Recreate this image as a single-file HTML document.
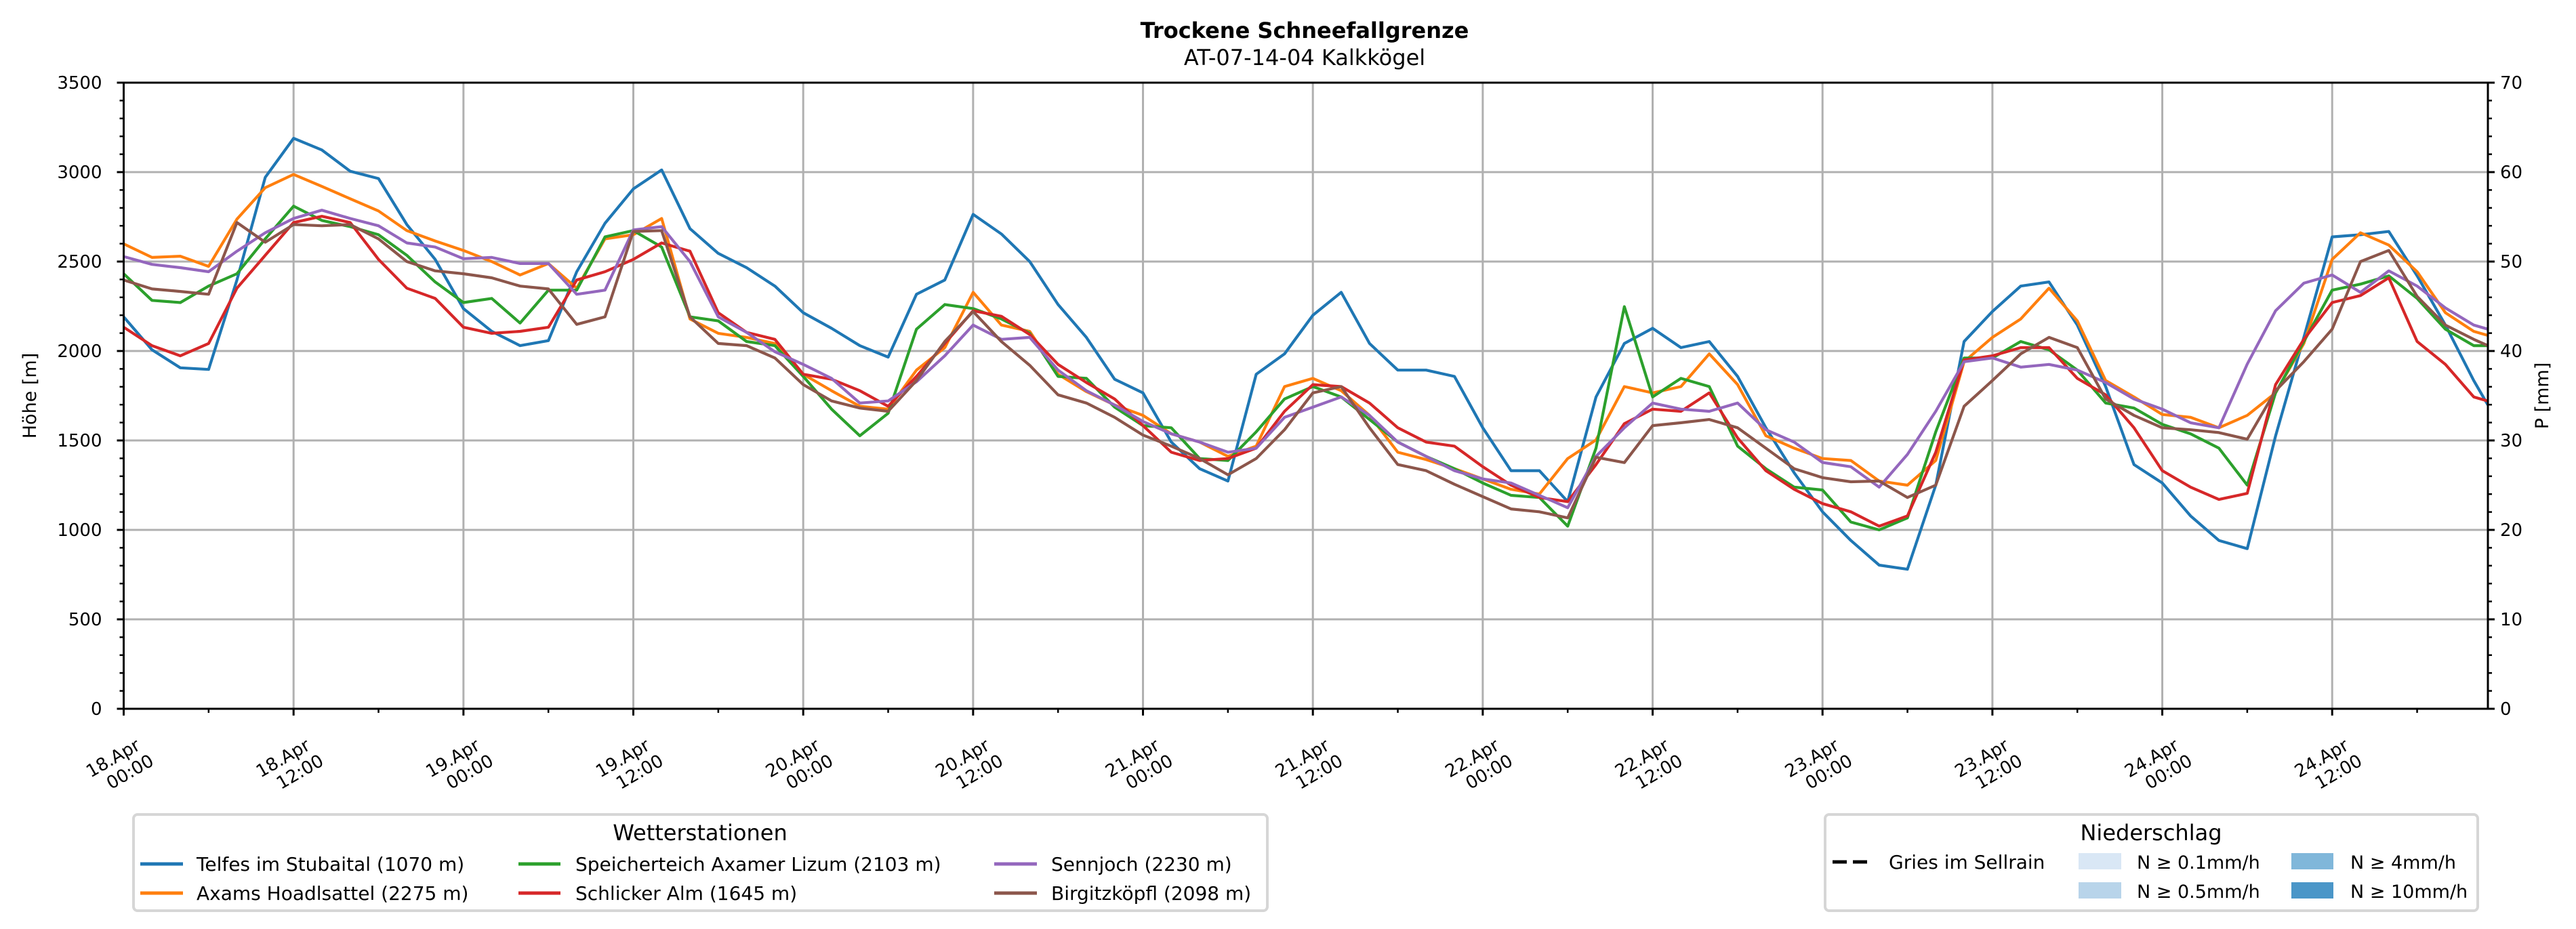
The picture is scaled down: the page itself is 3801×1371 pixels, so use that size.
<!DOCTYPE html>
<html><head><meta charset="utf-8"><style>
html,body{margin:0;padding:0;background:#fff;}
svg{display:block;font-family:"DejaVu Sans","Liberation Sans",sans-serif;}
</style></head><body>
<svg id="chart" width="3801" height="1371" viewBox="0 0 3801 1371" xmlns="http://www.w3.org/2000/svg">
<rect x="0" y="0" width="3801" height="1371" fill="#fff"/>
<text x="1925" y="56" text-anchor="middle" font-size="32" font-weight="bold">Trockene Schneefallgrenze</text>
<text x="1925" y="96" text-anchor="middle" font-size="32">AT-07-14-04 Kalkkögel</text>
<g id="grid"></g>
<g id="series"></g>
<g id="axes"></g>
<text transform="translate(53,584) rotate(-90)" text-anchor="middle" font-size="27">Höhe [m]</text>
<text transform="translate(3760,584) rotate(-90)" text-anchor="middle" font-size="27">P [mm]</text>

<g>
<rect x="197" y="1202" width="1673" height="142" rx="6" fill="#fff" stroke="#d6d6d6" stroke-width="4"/>
<text x="1033" y="1240" text-anchor="middle" font-size="32">Wetterstationen</text>
<g><line x1="207" y1="1275" x2="270" y2="1275" stroke="#1f77b4" stroke-width="5"/><text x="290" y="1285" font-size="28">Telfes im Stubaital (1070 m)</text></g>
<g><line x1="207" y1="1318" x2="270" y2="1318" stroke="#ff7f0e" stroke-width="5"/><text x="290" y="1328" font-size="28">Axams Hoadlsattel (2275 m)</text></g>
<g><line x1="765" y1="1275" x2="827" y2="1275" stroke="#2ca02c" stroke-width="5"/><text x="849" y="1285" font-size="28">Speicherteich Axamer Lizum (2103 m)</text></g>
<g><line x1="765" y1="1318" x2="827" y2="1318" stroke="#d62728" stroke-width="5"/><text x="849" y="1328" font-size="28">Schlicker Alm (1645 m)</text></g>
<g><line x1="1467" y1="1275" x2="1530" y2="1275" stroke="#9467bd" stroke-width="5"/><text x="1551" y="1285" font-size="28">Sennjoch (2230 m)</text></g>
<g><line x1="1467" y1="1318" x2="1530" y2="1318" stroke="#8c564b" stroke-width="5"/><text x="1551" y="1328" font-size="28">Birgitzköpfl (2098 m)</text></g>
</g>

<g>
<rect x="2693" y="1202" width="963" height="142" rx="6" fill="#fff" stroke="#d6d6d6" stroke-width="4"/>
<text x="3174" y="1240" text-anchor="middle" font-size="32">Niederschlag</text>
<g><line x1="2704" y1="1272" x2="2761" y2="1272" stroke="#000" stroke-width="5" stroke-dasharray="21,9"/><text x="2787" y="1282" font-size="28">Gries im Sellrain</text></g>
<g><rect x="3067" y="1259" width="63" height="24" fill="#d9e7f5"/><text x="3153" y="1282" font-size="27">N ≥ 0.1mm/h</text></g>
<g><rect x="3067" y="1302" width="63" height="24" fill="#b8d4ea"/><text x="3153" y="1325" font-size="27">N ≥ 0.5mm/h</text></g>
<g><rect x="3381" y="1259" width="62" height="24" fill="#80b7da"/><text x="3468" y="1282" font-size="27">N ≥ 4mm/h</text></g>
<g><rect x="3381" y="1302" width="62" height="24" fill="#4a96c8"/><text x="3468" y="1325" font-size="27">N ≥ 10mm/h</text></g>
</g>
</svg>
<script>
const hours = [0,2,4,6,8,10,12,14,16,18,20,22,24,26,28,30,32,34,36,38,40,42,44,46,48,50,52,54,56,58,60,62,64,66,68,70,72,74,76,78,80,82,84,86,88,90,92,94,96,98,100,102,104,106,108,110,112,114,116,118,120,122,124,126,128,130,132,134,136,138,140,142,144,146,148,150,152,154,156,158,160,162,164,166,167];
const telfes = [2191,2007,1906,1897,2397,2971,3189,3124,3005,2964,2707,2512,2237,2110,2030,2058,2443,2714,2906,3012,2684,2546,2466,2363,2214,2127,2030,1966,2317,2397,2764,2654,2500,2260,2076,1842,1766,1491,1342,1273,1870,1984,2200,2328,2042,1893,1893,1858,1571,1331,1331,1158,1743,2042,2127,2019,2053,1858,1571,1319,1101,941,803,780,1250,2053,2221,2363,2386,2145,1801,1365,1262,1078,941,895,1525,2076,2638,2650,2668,2420,2145,1835,1698];
const axams = [2599,2523,2530,2473,2737,2913,2987,2920,2851,2783,2673,2615,2562,2500,2425,2489,2351,2627,2650,2741,2179,2099,2076,2042,1870,1778,1691,1675,1893,2019,2328,2145,2110,1870,1773,1698,1640,1537,1491,1411,1468,1801,1847,1778,1640,1434,1393,1342,1285,1227,1200,1399,1503,1801,1766,1801,1984,1812,1526,1457,1399,1388,1273,1250,1388,1940,2076,2179,2351,2168,1835,1743,1645,1629,1571,1640,1766,2042,2512,2661,2592,2443,2214,2110,2087];
const speicher = [2432,2283,2271,2363,2432,2627,2810,2730,2695,2650,2535,2386,2271,2294,2156,2340,2340,2638,2673,2581,2191,2168,2053,2030,1858,1675,1526,1652,2122,2260,2237,2179,2099,1858,1847,1686,1583,1571,1399,1388,1548,1732,1801,1743,1617,1491,1411,1342,1262,1193,1181,1021,1457,2248,1743,1847,1801,1468,1342,1239,1223,1044,1000,1067,1548,1961,1961,2053,2007,1893,1709,1681,1590,1537,1457,1250,1766,2053,2340,2374,2420,2294,2122,2030,2030];
const schlicker = [2133,2030,1973,2042,2351,2535,2718,2753,2718,2512,2351,2294,2133,2099,2110,2133,2397,2443,2512,2604,2558,2214,2104,2065,1870,1842,1778,1691,1858,2042,2225,2194,2092,1925,1824,1732,1583,1434,1388,1399,1457,1663,1812,1801,1709,1571,1491,1468,1353,1250,1181,1158,1365,1594,1675,1663,1766,1514,1331,1227,1147,1101,1021,1078,1434,1950,1973,2019,2019,1847,1755,1571,1331,1239,1170,1204,1812,2065,2271,2310,2409,2053,1925,1743,1720];
const sennjoch = [2528,2484,2466,2443,2558,2661,2741,2787,2741,2700,2604,2581,2516,2523,2489,2489,2317,2340,2677,2695,2500,2191,2104,1996,1925,1847,1709,1721,1828,1973,2145,2065,2076,1893,1778,1698,1606,1537,1491,1434,1457,1629,1686,1743,1640,1491,1411,1331,1285,1262,1193,1124,1411,1571,1709,1675,1663,1709,1560,1491,1377,1353,1239,1422,1663,1940,1961,1910,1925,1893,1824,1732,1675,1599,1571,1927,2225,2379,2425,2328,2448,2363,2241,2145,2122];
const birgitz = [2397,2347,2333,2317,2718,2608,2707,2700,2707,2627,2500,2448,2432,2409,2363,2347,2149,2191,2668,2673,2191,2042,2030,1961,1812,1721,1681,1663,1835,2053,2221,2053,1920,1755,1709,1629,1530,1468,1399,1308,1399,1560,1766,1801,1571,1365,1331,1255,1186,1117,1101,1067,1406,1376,1583,1599,1617,1571,1457,1342,1292,1269,1273,1181,1250,1691,1835,1984,2076,2019,1732,1640,1571,1560,1544,1507,1778,1940,2122,2500,2562,2305,2145,2065,2030];
const yTicks = [0,500,1000,1500,2000,2500,3000,3500];
const y2Ticks = [0,10,20,30,40,50,60,70];
const xTickHours = [0,12,24,36,48,60,72,84,96,108,120,132,144,156];
const xTickDates = ["18.Apr","18.Apr","19.Apr","19.Apr","20.Apr","20.Apr","21.Apr","21.Apr","22.Apr","22.Apr","23.Apr","23.Apr","24.Apr","24.Apr"];
const xTickTimes = ["00:00","12:00","00:00","12:00","00:00","12:00","00:00","12:00","00:00","12:00","00:00","12:00","00:00","12:00"];

const NS = "http://www.w3.org/2000/svg";
const L = 182.5, R = 3671, T = 122, B = 1046;
const HMAX = 167, YMAX = 3500, Y2MAX = 70;
function xs(h){ return L + h/HMAX*(R-L); }
function ys(v){ return B - v/YMAX*(B-T); }
function y2s(v){ return B - v/Y2MAX*(B-T); }
function mk(tag, attrs, parent){ const e=document.createElementNS(NS,tag); for(const k in attrs) e.setAttribute(k,attrs[k]); parent.appendChild(e); return e; }

const grid = document.getElementById('grid');
const axes = document.getElementById('axes');
const series = document.getElementById('series');

yTicks.forEach(v=>{
  const g = mk('line',{x1:L,x2:R,y1:ys(v),y2:ys(v),stroke:'#b0b0b0','stroke-width':3},grid);
  
  
});
xTickHours.forEach(h=>{
  const g = mk('line',{x1:xs(h),x2:xs(h),y1:T,y2:B,stroke:'#b0b0b0','stroke-width':3},grid);
  
  
});

const lines = [
  ['telfes-line',telfes,'#1f77b4'],
  ['axams-line',axams,'#ff7f0e'],
  ['speicherteich-line',speicher,'#2ca02c'],
  ['schlicker-line',schlicker,'#d62728'],
  ['sennjoch-line',sennjoch,'#9467bd'],
  ['birgitzkoepfl-line',birgitz,'#8c564b']
];
lines.forEach(([name,vals,col])=>{
  const pts = vals.map((v,i)=>xs(hours[i]).toFixed(1)+','+ys(v).toFixed(1)).join(' ');
  const p = mk('polyline',{points:pts,fill:'none',stroke:col,'stroke-width':4.2,'stroke-linejoin':'round'},series);
  
  
});

const fr = mk('rect',{x:L,y:T,width:R-L,height:B-T,fill:'none',stroke:'#000','stroke-width':3},axes);



for(let v=0; v<=YMAX; v+=100){
  const major = v%500===0;
  const t = mk('line',{x1:L,x2:L-(major?10:6),y1:ys(v),y2:ys(v),stroke:'#000','stroke-width':major?3:2.5},axes);
  
  
}
yTicks.forEach(v=>{
  const t = mk('text',{x:L-32,y:ys(v)+9,'text-anchor':'end','font-size':26},axes);
  t.textContent = v;
  
  
});
for(let v=0; v<=Y2MAX; v+=2){
  const major = v%10===0;
  const t = mk('line',{x1:R,x2:R+(major?10:6),y1:y2s(v),y2:y2s(v),stroke:'#000','stroke-width':major?3:2.5},axes);
  
  
}
y2Ticks.forEach(v=>{
  const t = mk('text',{x:R+18,y:y2s(v)+9,'text-anchor':'start','font-size':26},axes);
  t.textContent = v;
  
  
});
for(let h=0; h<=HMAX; h+=6){
  const major = h%12===0;
  const t = mk('line',{x1:xs(h),x2:xs(h),y1:B,y2:B+(major?10:6),stroke:'#000','stroke-width':major?3:2.5},axes);
  
  
}
xTickHours.forEach((h,i)=>{
  const g = mk('g',{transform:'translate('+(xs(h)+26).toFixed(1)+',1105) rotate(-30)'},axes);
  
  
  const a = mk('text',{x:0,y:0,'text-anchor':'end','font-size':26},g);
  a.textContent = xTickDates[i];
  const b = mk('text',{x:6,y:30,'text-anchor':'end','font-size':26},g);
  b.textContent = xTickTimes[i];
});
</script>
</body></html>
